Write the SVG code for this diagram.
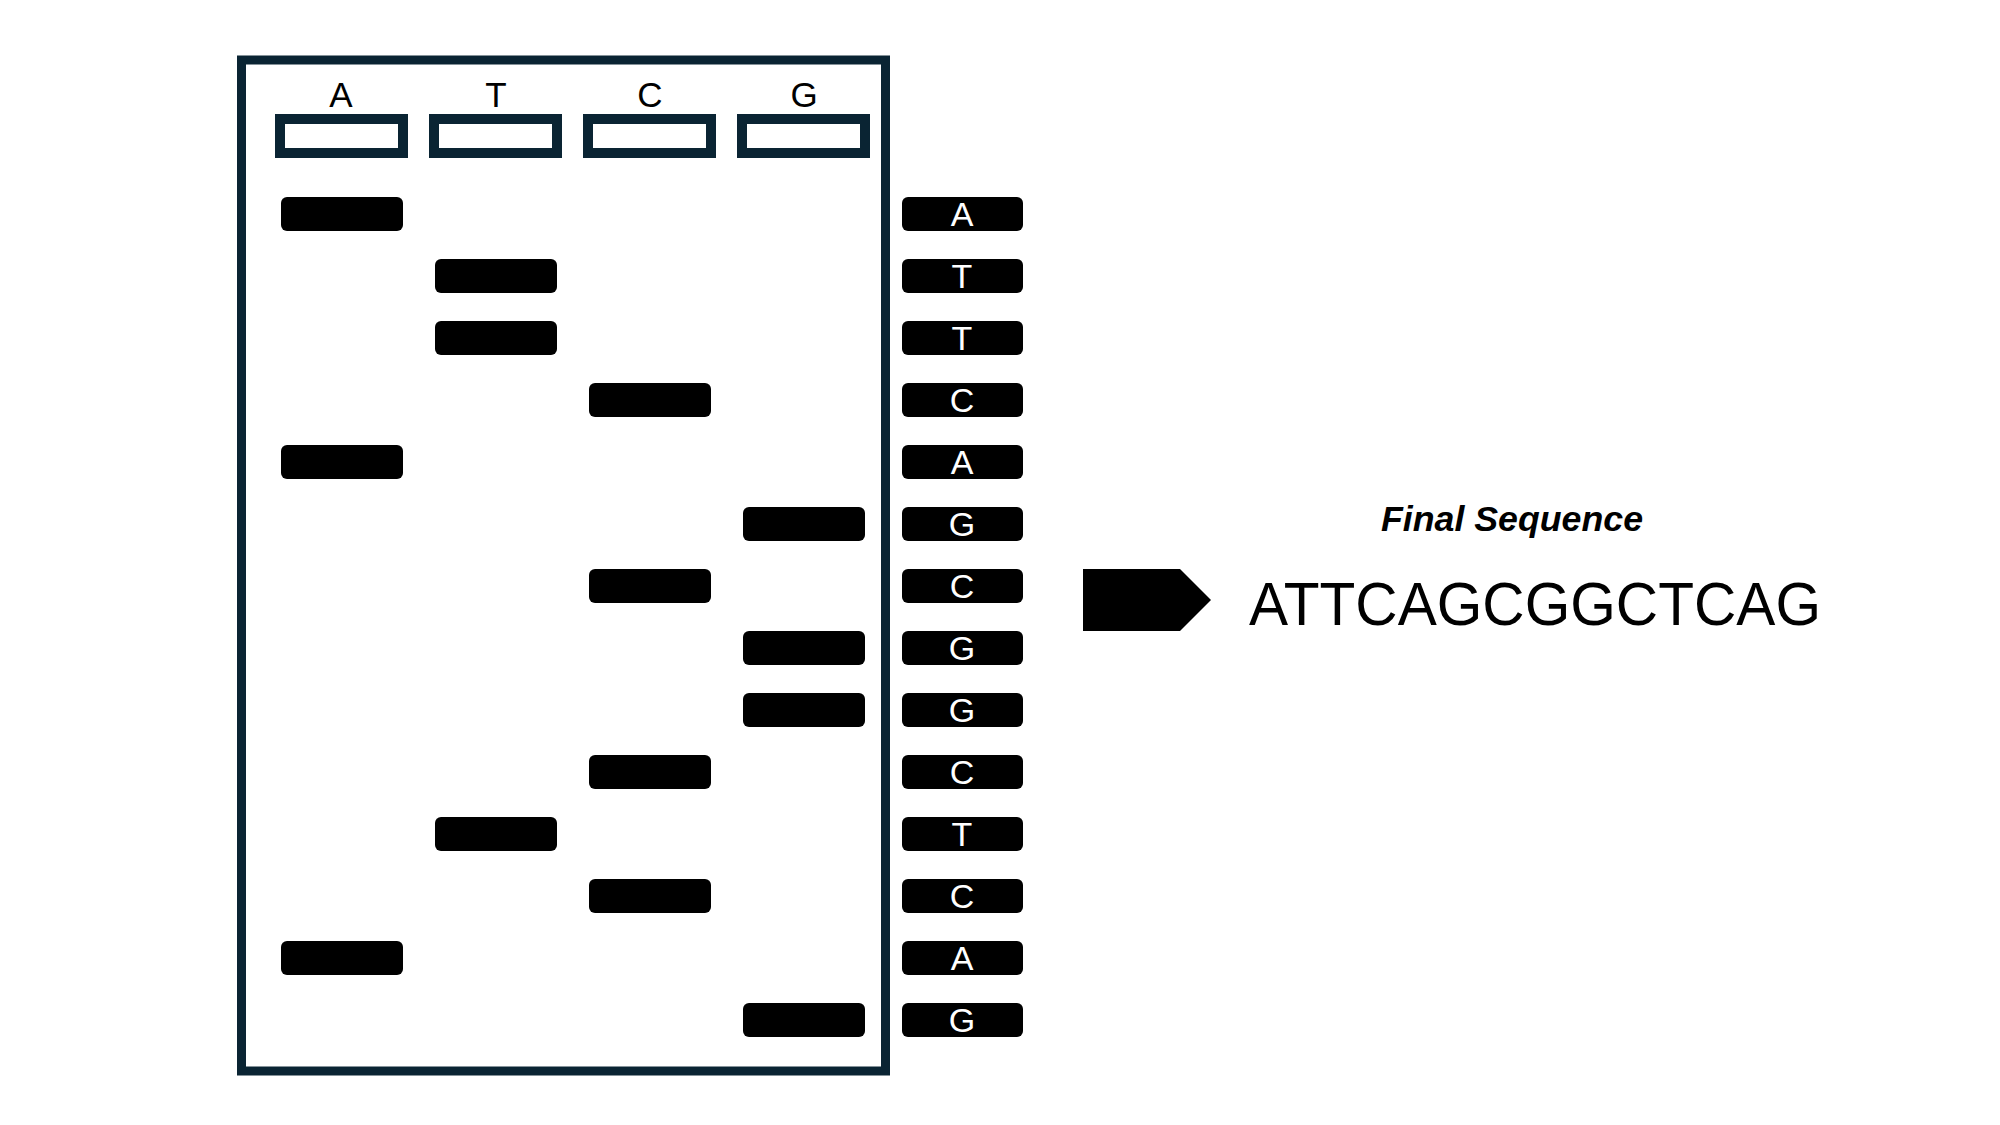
<svg xmlns="http://www.w3.org/2000/svg" width="2000" height="1125" viewBox="0 0 2000 1125">
<style>
.frame{fill:none;stroke:#0a2433;stroke-width:9}
.well{fill:#fff;stroke:#0a2433;stroke-width:10}
.band{fill:#000}
.hdr{font-family:"Liberation Sans",Arial,sans-serif;font-size:35px;fill:#000;text-anchor:middle}
.lbl{font-family:"Liberation Sans",Arial,sans-serif;font-size:34px;fill:#fff;text-anchor:middle}
.title{font-family:"Liberation Sans",Arial,sans-serif;font-size:35px;font-weight:bold;font-style:italic;fill:#000;text-anchor:middle}
.seq{font-family:"Liberation Sans",Arial,sans-serif;font-size:62px;fill:#000}
</style>
<rect width="2000" height="1125" fill="#fff"/>
<g id="gel">
<rect class="frame" x="241.5" y="60" width="644" height="1011"/>
</g>
<g id="lane-headers">
<text class="hdr" x="341" y="107">A</text>
<text class="hdr" x="496" y="107">T</text>
<text class="hdr" x="650" y="107">C</text>
<text class="hdr" x="804" y="107">G</text>
</g>
<g id="wells">
<rect class="well" x="280" y="119" width="123" height="34"/>
<rect class="well" x="434" y="119" width="123" height="34"/>
<rect class="well" x="588" y="119" width="123" height="34"/>
<rect class="well" x="742" y="119" width="123" height="34"/>
</g>
<g id="bands">
<rect class="band" x="281" y="197" width="122" height="34" rx="6"/>
<rect class="band" x="435" y="259" width="122" height="34" rx="6"/>
<rect class="band" x="435" y="321" width="122" height="34" rx="6"/>
<rect class="band" x="589" y="383" width="122" height="34" rx="6"/>
<rect class="band" x="281" y="445" width="122" height="34" rx="6"/>
<rect class="band" x="743" y="507" width="122" height="34" rx="6"/>
<rect class="band" x="589" y="569" width="122" height="34" rx="6"/>
<rect class="band" x="743" y="631" width="122" height="34" rx="6"/>
<rect class="band" x="743" y="693" width="122" height="34" rx="6"/>
<rect class="band" x="589" y="755" width="122" height="34" rx="6"/>
<rect class="band" x="435" y="817" width="122" height="34" rx="6"/>
<rect class="band" x="589" y="879" width="122" height="34" rx="6"/>
<rect class="band" x="281" y="941" width="122" height="34" rx="6"/>
<rect class="band" x="743" y="1003" width="122" height="34" rx="6"/>
</g>
<g id="read-labels">
<rect class="band" x="902" y="197" width="121" height="34" rx="6"/><text class="lbl" x="962" y="226">A</text>
<rect class="band" x="902" y="259" width="121" height="34" rx="6"/><text class="lbl" x="962" y="288">T</text>
<rect class="band" x="902" y="321" width="121" height="34" rx="6"/><text class="lbl" x="962" y="350">T</text>
<rect class="band" x="902" y="383" width="121" height="34" rx="6"/><text class="lbl" x="962" y="412">C</text>
<rect class="band" x="902" y="445" width="121" height="34" rx="6"/><text class="lbl" x="962" y="474">A</text>
<rect class="band" x="902" y="507" width="121" height="34" rx="6"/><text class="lbl" x="962" y="536">G</text>
<rect class="band" x="902" y="569" width="121" height="34" rx="6"/><text class="lbl" x="962" y="598">C</text>
<rect class="band" x="902" y="631" width="121" height="34" rx="6"/><text class="lbl" x="962" y="660">G</text>
<rect class="band" x="902" y="693" width="121" height="34" rx="6"/><text class="lbl" x="962" y="722">G</text>
<rect class="band" x="902" y="755" width="121" height="34" rx="6"/><text class="lbl" x="962" y="784">C</text>
<rect class="band" x="902" y="817" width="121" height="34" rx="6"/><text class="lbl" x="962" y="846">T</text>
<rect class="band" x="902" y="879" width="121" height="34" rx="6"/><text class="lbl" x="962" y="908">C</text>
<rect class="band" x="902" y="941" width="121" height="34" rx="6"/><text class="lbl" x="962" y="970">A</text>
<rect class="band" x="902" y="1003" width="121" height="34" rx="6"/><text class="lbl" x="962" y="1032">G</text>
</g>
<g id="connectors">
<polygon id="arrow" points="1083,569 1180,569 1211,600 1180,631 1083,631" fill="#000"/>
</g>
<g id="result">
<text class="title" x="1512" y="531" textLength="262" lengthAdjust="spacingAndGlyphs">Final Sequence</text>
<text class="seq" x="1249" y="625" textLength="572" lengthAdjust="spacingAndGlyphs">ATTCAGCGGCTCAG</text>
</g>
</svg>
